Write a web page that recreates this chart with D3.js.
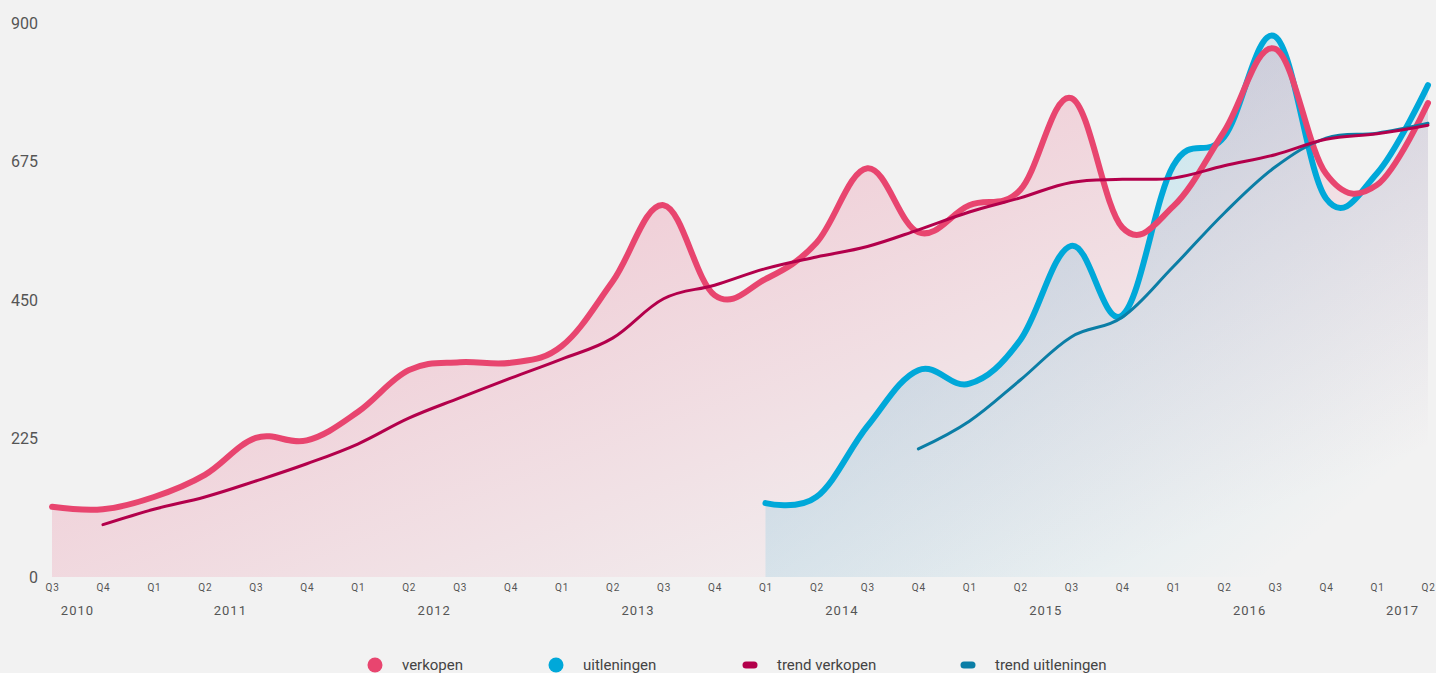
<!DOCTYPE html>
<html>
<head>
<meta charset="utf-8">
<script src="https://cdn.jsdelivr.net/npm/d3@7"></script>
<style>
  html, body { margin: 0; padding: 0; background: #f2f2f2; }
  svg { display: block; font-family: Roboto, "Liberation Sans", sans-serif; }
</style>
</head>
<body>
<div id="chart"></div>
<script>
// quarters from Q3 2010 up to Q2 2017
const quarters = ["Q3","Q4",
  "Q1","Q2","Q3","Q4",
  "Q1","Q2","Q3","Q4",
  "Q1","Q2","Q3","Q4",
  "Q1","Q2","Q3","Q4",
  "Q1","Q2","Q3","Q4",
  "Q1","Q2","Q3","Q4",
  "Q1","Q2"]
const years = [2010,2010,
  2011,2011,2011,2011,
  2012,2012,2012,2012,
  2013,2013,2013,2013,
  2014,2014,2014,2014,
  2015,2015,2015,2015,
  2016,2016,2016,2016,
  2017,2017]

const verkopen = [114,110,130,166,226,222,268,336,349,348,375,480,604,458,
  484,543,664,560,604,629,778,568,602,724,858,655,637,770]
const uitleningen = [null,null,null,null,null,null,null,null,null,null,null,null,null,null,
  120,130,245,336,314,385,538,425,668,715,878,615,656,799]
const trendVerkopen = [null,85,110,130,156,184,216,258,291,323,354,388,452,474,
  501,520,537,564,593,616,641,646,648,668,686,711,720,734]
const trendUitleningen = [null,null,null,null,null,null,null,null,null,null,null,null,null,null,
  null,null,null,208,253,320,390,422,504,591,666,713,721,737]

const yTicks = [0, 225, 450, 675, 900]

const legendItems = [
  { label: "verkopen", color: "#e8456f", kind: "dot" },
  { label: "uitleningen", color: "#00a8d9", kind: "dot" },
  { label: "trend verkopen", color: "#b3004b", kind: "dash" },
  { label: "trend uitleningen", color: "#0b7ea6", kind: "dash" }
]

const width = 1436, height = 673

const svg = d3.select("#chart").append("svg")
  .attr("width", width)
  .attr("height", height)

svg.append("rect").attr("width", width).attr("height", height).attr("fill", "#f2f2f2")

const idx = d3.range(quarters.length)

const xScale = d3.scalePoint().domain(idx).range([52, 1428])
const yScale = d3.scaleLinear().domain([0, 900]).range([577, 23])

// gradients for the two areas (fade towards the bottom right)
const defs = svg.append("defs")
function addGradient(id, color, op) {
  const g = defs.append("linearGradient")
    .attr("id", id)
    .attr("x1", 0).attr("y1", 0).attr("x2", 1).attr("y2", 1)
  g.append("stop").attr("offset", "0%").attr("stop-color", color).attr("stop-opacity", op)
  g.append("stop").attr("offset", "88%").attr("stop-color", color).attr("stop-opacity", 0)
}
addGradient("gradVerkopen", "#e8456f", 0.34)
addGradient("gradUitleningen", "#00a8d9", 0.26)

// spline through the points, slightly looser than catmull-rom
const curve = d3.curveCardinal.tension(-0.1)

const line = values => d3.line()
  .defined(i => values[i] !== null)
  .x(i => xScale(i))
  .y(i => yScale(values[i]))
  .curve(curve)(idx)

const area = values => d3.area()
  .defined(i => values[i] !== null)
  .x(i => xScale(i))
  .y0(yScale(0))
  .y1(i => yScale(values[i]))
  .curve(curve)(idx)

// areas
svg.append("path").attr("d", area(verkopen)).attr("fill", "url(#gradVerkopen)")
svg.append("path").attr("d", area(uitleningen)).attr("fill", "url(#gradUitleningen)")

// main lines
svg.append("path").attr("d", line(uitleningen))
  .attr("fill", "none").attr("stroke", "#00a8d9").attr("stroke-width", 6)
  .attr("stroke-linecap", "round").attr("stroke-linejoin", "round")
svg.append("path").attr("d", line(verkopen))
  .attr("fill", "none").attr("stroke", "#e8456f").attr("stroke-width", 6)
  .attr("stroke-linecap", "round").attr("stroke-linejoin", "round")

// trends
svg.append("path").attr("d", line(trendUitleningen))
  .attr("fill", "none").attr("stroke", "#0b7ea6").attr("stroke-width", 3)
  .attr("stroke-linecap", "round")
svg.append("path").attr("d", line(trendVerkopen))
  .attr("fill", "none").attr("stroke", "#b3004b").attr("stroke-width", 3)
  .attr("stroke-linecap", "round")

// Y-AXIS (labels only)
const yAxis = d3.axisLeft(yScale).tickValues(yTicks).tickSize(0).tickPadding(0)
const gy = svg.append("g").attr("transform", "translate(38,0)").call(yAxis)
gy.select(".domain").remove()
gy.selectAll("text")
  .attr("fill", "#555")
  .style("font-size", "16px")
  .style("font-family", "Roboto, sans-serif")

// X-AXIS quarters
const xAxis = d3.axisBottom(xScale).tickSize(0).tickPadding(0).tickFormat(i => quarters[i])
const gx = svg.append("g").attr("transform", "translate(0,584)").call(xAxis)
gx.select(".domain").remove()
gx.selectAll("text")
  .attr("fill", "#555")
  .style("font-size", "10px")
  .style("letter-spacing", "0.8px")
  .style("font-family", "Roboto, sans-serif")

// year labels centred under their quarters
const yearGroups = d3.groups(idx, i => years[i])
svg.append("g").selectAll("text")
  .data(yearGroups)
  .enter()
  .append("text")
  .attr("x", d => d3.mean(d[1], i => xScale(i)))
  .attr("y", 615)
  .attr("text-anchor", "middle")
  .attr("fill", "#555")
  .style("font-size", "13px")
  .style("letter-spacing", "1px")
  .text(d => d[0])

// legend
const legendX = [375, 556, 750, 968]
const lg = svg.append("g").selectAll("g")
  .data(legendItems)
  .enter()
  .append("g")
  .attr("transform", (d, i) => "translate(" + legendX[i] + ",665)")
lg.filter(d => d.kind === "dot").append("circle")
  .attr("r", 7.5)
  .attr("fill", d => d.color)
lg.filter(d => d.kind === "dash").append("rect")
  .attr("x", -7.5).attr("y", -3.5)
  .attr("width", 15).attr("height", 7)
  .attr("rx", 3.5)
  .attr("fill", d => d.color)
lg.append("text")
  .attr("x", 27)
  .attr("y", 5)
  .attr("fill", "#444")
  .style("font-size", "15px")
  .text(d => d.label)
</script>
</body>
</html>
